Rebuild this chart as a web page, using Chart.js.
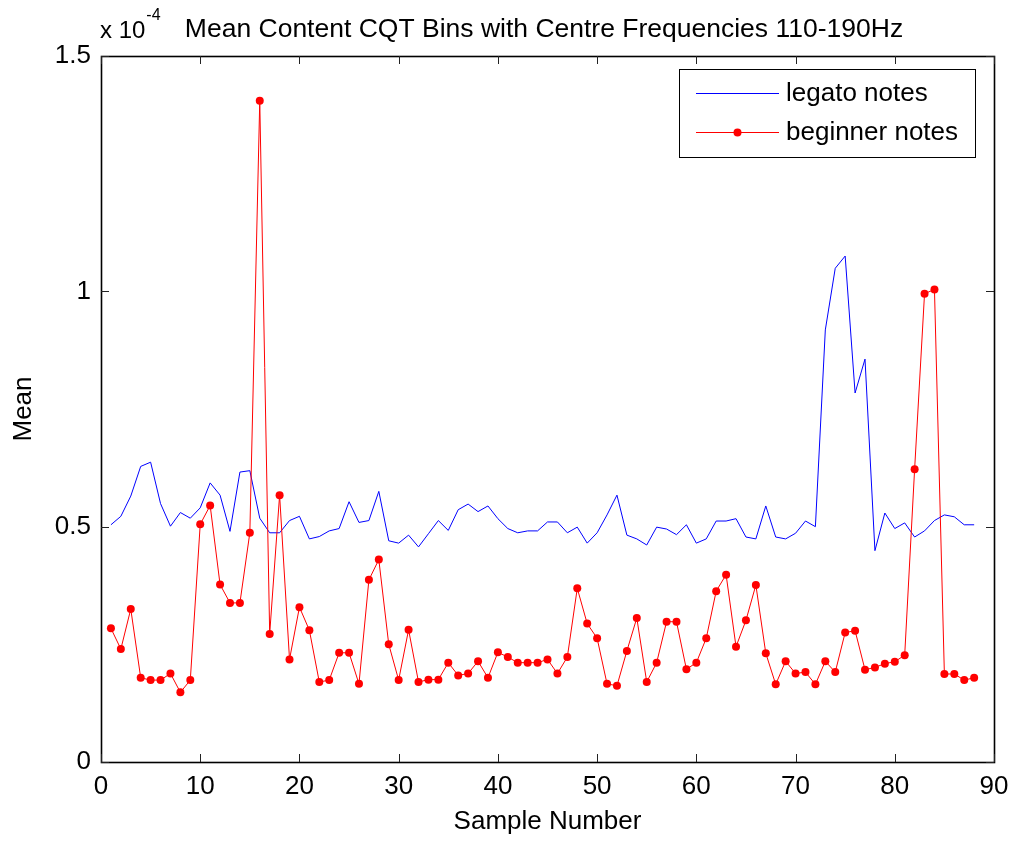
<!DOCTYPE html>
<html>
<head>
<meta charset="utf-8">
<script src="https://cdn.jsdelivr.net/npm/chart.js@4/dist/chart.umd.min.js"></script>
<style>
  html, body { margin: 0; padding: 0; background: #fff; }
  #wrap { width: 1016px; height: 841px; position: relative; }
</style>
</head>
<body>
<div id="wrap"><canvas id="c" width="1016" height="841"></canvas></div>
<script>
// ---- Data (values in units of 1e-4) ----
const sampleNumbers = [1,2,3,4,5,6,7,8,9,10,11,12,13,14,15,16,17,18,19,20,21,22,23,24,25,26,27,28,29,30,
  31,32,33,34,35,36,37,38,39,40,41,42,43,44,45,46,47,48,49,50,51,52,53,54,55,56,57,58,59,60,
  61,62,63,64,65,66,67,68,69,70,71,72,73,74,75,76,77,78,79,80,81,82,83,84,85,86,87,88];

const legatoNotes = [0.504,0.522,0.565,0.628,0.637,0.549,0.501,0.530,0.518,0.540,
  0.593,0.567,0.490,0.616,0.619,0.518,0.487,0.487,0.513,0.522,
  0.474,0.479,0.491,0.496,0.553,0.509,0.513,0.575,0.470,0.465,
  0.482,0.457,0.485,0.513,0.492,0.536,0.548,0.532,0.544,0.517,
  0.496,0.487,0.491,0.491,0.510,0.510,0.487,0.499,0.465,0.487,
  0.525,0.567,0.482,0.474,0.461,0.499,0.495,0.483,0.504,0.465,
  0.474,0.512,0.512,0.517,0.478,0.474,0.544,0.478,0.474,0.486,
  0.512,0.500,0.918,1.049,1.075,0.784,0.856,0.449,0.529,0.496,
  0.508,0.478,0.491,0.513,0.525,0.521,0.504,0.504];

const beginnerNotes = [0.284,0.240,0.325,0.179,0.174,0.174,0.188,0.148,0.174,0.505,
  0.545,0.377,0.338,0.338,0.487,1.405,0.272,0.567,0.218,0.329,
  0.280,0.170,0.174,0.232,0.232,0.166,0.387,0.430,0.250,0.174,
  0.281,0.170,0.175,0.175,0.211,0.184,0.188,0.214,0.179,0.233,
  0.223,0.211,0.211,0.211,0.218,0.188,0.223,0.369,0.294,0.263,
  0.166,0.162,0.236,0.306,0.170,0.211,0.298,0.298,0.197,0.211,
  0.263,0.363,0.398,0.245,0.301,0.376,0.231,0.165,0.214,0.188,
  0.191,0.165,0.214,0.191,0.275,0.279,0.196,0.201,0.209,0.213,
  0.227,0.622,0.995,1.004,0.187,0.187,0.174,0.179];

const xTicks = [0,10,20,30,40,50,60,70,80,90];
const yTicks = [0,0.5,1,1.5];
const yTickLabels = ['0','0.5','1','1.5'];
const seriesNames = ['legato notes','beginner notes'];
const titleText = 'Mean Content CQT Bins with Centre Frequencies 110-190Hz';
const exponentBase = 'x 10';
const exponentPower = '-4';
const xLabel = 'Sample Number';
const yLabel = 'Mean';

const FONT = '"Liberation Sans", Arial, Helvetica, sans-serif';

const matlabPlugin = {
  id: 'matlabAxes',
  afterDatasetsDraw(chart) {
    const ctx = chart.ctx;
    const a = chart.chartArea;
    const xs = chart.scales.x, ys = chart.scales.y;
    ctx.save();
    // box
    ctx.strokeStyle = '#000';
    ctx.lineWidth = 1.6;
    ctx.strokeRect(Math.round(a.left) + 0.5, Math.round(a.top) + 0.5,
      Math.round(a.right - a.left), Math.round(a.bottom - a.top));
    // ticks (inward, on all four sides)
    ctx.lineWidth = 1;
    ctx.strokeStyle = '#222';
    const TL = 8;
    xTicks.forEach(v => {
      const px = Math.round(xs.getPixelForValue(v)) + 0.5;
      ctx.beginPath();
      ctx.moveTo(px, a.bottom); ctx.lineTo(px, a.bottom - TL);
      ctx.moveTo(px, a.top); ctx.lineTo(px, a.top + TL);
      ctx.stroke();
    });
    yTicks.forEach(v => {
      const py = Math.round(ys.getPixelForValue(v)) + 0.5;
      ctx.beginPath();
      ctx.moveTo(a.left, py); ctx.lineTo(a.left + TL, py);
      ctx.moveTo(a.right, py); ctx.lineTo(a.right - TL, py);
      ctx.stroke();
    });
    // exponent label and title
    ctx.fillStyle = '#000';
    ctx.textBaseline = 'alphabetic';
    ctx.textAlign = 'left';
    ctx.font = '24px ' + FONT;
    ctx.fillText(exponentBase, a.left - 1, 38);
    const w = ctx.measureText(exponentBase).width;
    ctx.font = '16px ' + FONT;
    ctx.fillText(exponentPower, a.left - 1 + w + 1, 20);
    ctx.font = '26.5px ' + FONT;
    ctx.textAlign = 'center';
    ctx.fillText(titleText, 544, 37);

    // legend box
    const lx = 679, ly = 69, lw = 296, lh = 88;
    ctx.fillStyle = '#fff';
    ctx.fillRect(lx, ly, lw, lh);
    ctx.strokeStyle = '#000';
    ctx.lineWidth = 1;
    ctx.strokeRect(lx + 0.5, ly + 0.5, lw, lh);
    const rows = [93, 132];
    chart.data.datasets.forEach((ds, i) => {
      const y = rows[i] + 0.5;
      ctx.strokeStyle = ds.borderColor;
      ctx.lineWidth = 1;
      ctx.beginPath();
      ctx.moveTo(696, y); ctx.lineTo(779, y);
      ctx.stroke();
      if (ds.pointRadius > 0) {
        ctx.fillStyle = ds.pointBackgroundColor;
        ctx.beginPath();
        ctx.arc(737.5, y, ds.pointRadius, 0, Math.PI * 2);
        ctx.fill();
      }
      ctx.fillStyle = '#000';
      ctx.font = '26px ' + FONT;
      ctx.textAlign = 'left';
      ctx.textBaseline = 'middle';
      ctx.fillText(ds.label, 786, rows[i] + 1);
    });
    ctx.restore();
  }
};

new Chart(document.getElementById('c'), {
  type: 'line',
  data: {
    labels: sampleNumbers,
    datasets: [
      {
        label: seriesNames[0],
        data: legatoNotes,
        borderColor: '#0000ff',
        backgroundColor: '#0000ff',
        borderWidth: 1,
        pointRadius: 0,
        tension: 0,
        order: 1
      },
      {
        label: seriesNames[1],
        data: beginnerNotes,
        borderColor: '#ff0000',
        backgroundColor: '#ff0000',
        pointBackgroundColor: '#ff0000',
        pointBorderWidth: 0,
        borderWidth: 1,
        pointRadius: 4,
        tension: 0,
        order: 0
      }
    ]
  },
  options: {
    responsive: false,
    animation: false,
    devicePixelRatio: 1,
    layout: { padding: { top: 56, right: 22, bottom: 0, left: 0 } },
    plugins: {
      legend: { display: false },
      title: { display: false },
      tooltip: { enabled: false }
    },
    scales: {
      x: {
        type: 'linear',
        min: 0, max: 90,
        grid: { display: false, drawTicks: false },
        border: { display: false },
        afterBuildTicks: s => { s.ticks = xTicks.map(v => ({ value: v })); },
        afterFit: s => { s.height = 79; s.paddingLeft = 0; s.paddingRight = 0; },
        ticks: {
          color: '#000',
          padding: 9,
          maxRotation: 0,
          autoSkip: false,
          font: { family: FONT, size: 26 },
          callback: v => String(v)
        },
        title: {
          display: true, text: xLabel, color: '#000',
          font: { family: FONT, size: 26 },
          padding: { top: 0, bottom: 4 }
        }
      },
      y: {
        min: 0, max: 1.5,
        grid: { display: false, drawTicks: false },
        border: { display: false },
        afterBuildTicks: s => { s.ticks = yTicks.map(v => ({ value: v })); },
        afterFit: s => { s.width = 101; s.paddingTop = 0; s.paddingBottom = 0; },
        ticks: {
          color: '#000',
          padding: 10,
          autoSkip: false,
          font: { family: FONT, size: 26 },
          callback: (v) => { const k = yTicks.indexOf(v); return k >= 0 ? yTickLabels[k] : ''; }
        },
        title: {
          display: true, text: yLabel, color: '#000',
          font: { family: FONT, size: 26 },
          padding: { top: 8, bottom: 0 }
        }
      }
    }
  },
  plugins: [matlabPlugin]
});
</script>
</body>
</html>
